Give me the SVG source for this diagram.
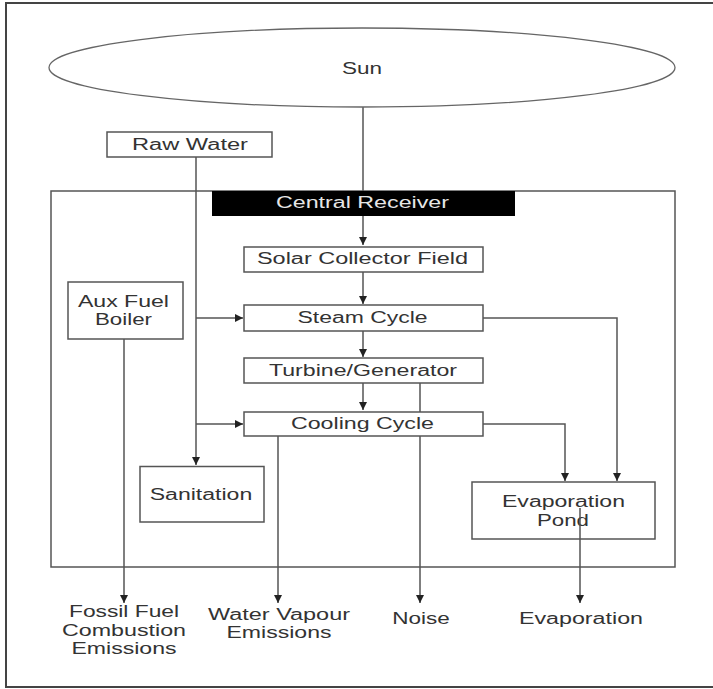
<svg xmlns="http://www.w3.org/2000/svg" width="713" height="689" viewBox="0 0 713 689">
<style>
.bx{fill:#fff;stroke:#555;stroke-width:1.5}
.ln{fill:none;stroke:#555;stroke-width:1.5}
.t{font-family:"Liberation Sans",Arial,sans-serif;font-size:16px;fill:#333;text-anchor:middle}
</style>
<defs>
<marker id="ah" markerUnits="userSpaceOnUse" markerWidth="9" markerHeight="9" refX="8" refY="4" orient="auto">
<path d="M0,0 L8,4 L0,8 z" fill="#222"/>
</marker>
</defs>
<rect x="0" y="0" width="713" height="689" fill="#fff"/>
<rect x="6" y="3" width="720" height="684" fill="none" stroke="#444" stroke-width="2"/>
<rect id="plant" x="51" y="191" width="624" height="376" fill="none" stroke="#555" stroke-width="1.5"/>

<g id="connectors">
<path class="ln" d="M363,107 V245" marker-end="url(#ah)"/>
<path class="ln" d="M363,272 V304" marker-end="url(#ah)"/>
<path class="ln" d="M363,331 V357" marker-end="url(#ah)"/>
<path class="ln" d="M363,383 V410" marker-end="url(#ah)"/>
<path class="ln" d="M196,157 V465" marker-end="url(#ah)"/>
<path class="ln" d="M196,318 H243" marker-end="url(#ah)"/>
<path class="ln" d="M196,424 H243" marker-end="url(#ah)"/>
<path class="ln" d="M483,318 H617 V481" marker-end="url(#ah)"/>
<path class="ln" d="M483,424 H565 V481" marker-end="url(#ah)"/>
<path class="ln" d="M124,339 V603" marker-end="url(#ah)"/>
<path class="ln" d="M278,436 V603" marker-end="url(#ah)"/>
<path class="ln" d="M420,383 V603" marker-end="url(#ah)"/>
<path class="ln" d="M580,508 V603" marker-end="url(#ah)"/>
</g>

<g id="sun">
<ellipse cx="362" cy="67.5" rx="313" ry="39.5" fill="none" stroke="#666" stroke-width="1.3"/>
<text class="t" transform="scale(1.4,1)" x="258.571" y="74" textLength="28.57" lengthAdjust="spacingAndGlyphs">Sun</text>
</g>
<g id="raw-water">
<rect class="bx" x="107" y="132" width="165" height="25"/>
<text class="t" transform="scale(1.4,1)" x="135.714" y="150.5" textLength="82.857" lengthAdjust="spacingAndGlyphs">Raw Water</text>
</g>
<g id="central-receiver">
<rect x="212" y="191" width="303" height="25" fill="#000"/>
<text class="t" transform="scale(1.4,1)" x="258.929" y="208.5" textLength="123.571" lengthAdjust="spacingAndGlyphs" style="fill:#e6e6e6">Central Receiver</text>
</g>
<g id="solar-collector-field">
<rect class="bx" x="244" y="247" width="239" height="25"/>
<text class="t" transform="scale(1.4,1)" x="258.929" y="264.3" textLength="150.714" lengthAdjust="spacingAndGlyphs">Solar Collector Field</text>
</g>
<g id="steam-cycle">
<rect class="bx" x="244" y="305" width="239" height="26"/>
<text class="t" transform="scale(1.4,1)" x="258.929" y="322.7" textLength="92.857" lengthAdjust="spacingAndGlyphs">Steam Cycle</text>
</g>
<g id="turbine-generator">
<rect class="bx" x="244" y="358" width="239" height="25"/>
<text class="t" transform="scale(1.4,1)" x="259.286" y="376.5" textLength="134.286" lengthAdjust="spacingAndGlyphs">Turbine/Generator</text>
</g>
<g id="cooling-cycle">
<rect class="bx" x="244" y="412" width="239" height="24"/>
<text class="t" transform="scale(1.4,1)" x="258.929" y="429" textLength="102.143" lengthAdjust="spacingAndGlyphs">Cooling Cycle</text>
</g>
<g id="aux-fuel-boiler">
<rect class="bx" x="68" y="282" width="115" height="57"/>
<text class="t" transform="scale(1.4,1)" x="88.214" y="306.7" textLength="65" lengthAdjust="spacingAndGlyphs">Aux Fuel</text>
<text class="t" transform="scale(1.4,1)" x="88.214" y="325.3" textLength="40.714" lengthAdjust="spacingAndGlyphs">Boiler</text>
</g>
<g id="sanitation">
<rect class="bx" x="140" y="466.5" width="124" height="55.5"/>
<text class="t" transform="scale(1.4,1)" x="143.571" y="500" textLength="73.214" lengthAdjust="spacingAndGlyphs">Sanitation</text>
</g>
<g id="evaporation-pond">
<rect class="bx" x="472" y="482" width="183" height="57"/>
<text class="t" transform="scale(1.4,1)" x="402.5" y="506.7" textLength="87.857" lengthAdjust="spacingAndGlyphs">Evaporation</text>
<text class="t" transform="scale(1.4,1)" x="402.143" y="526" textLength="37.143" lengthAdjust="spacingAndGlyphs">Pond</text>
<path class="ln" d="M580,508 V539"/>
</g>
<g id="fossil-fuel-emissions">
<text class="t" transform="scale(1.4,1)" x="88.571" y="616.7" textLength="78.571" lengthAdjust="spacingAndGlyphs">Fossil Fuel</text>
<text class="t" transform="scale(1.4,1)" x="88.571" y="635.7" textLength="88.571" lengthAdjust="spacingAndGlyphs">Combustion</text>
<text class="t" transform="scale(1.4,1)" x="88.571" y="654.3" textLength="75" lengthAdjust="spacingAndGlyphs">Emissions</text>
</g>
<g id="water-vapour-emissions">
<text class="t" transform="scale(1.4,1)" x="199.286" y="620" textLength="101.429" lengthAdjust="spacingAndGlyphs">Water Vapour</text>
<text class="t" transform="scale(1.4,1)" x="199.286" y="638" textLength="75" lengthAdjust="spacingAndGlyphs">Emissions</text>
</g>
<g id="noise">
<text class="t" transform="scale(1.4,1)" x="300.714" y="624" textLength="41.071" lengthAdjust="spacingAndGlyphs">Noise</text>
</g>
<g id="evaporation">
<text class="t" transform="scale(1.4,1)" x="415" y="624" textLength="88.571" lengthAdjust="spacingAndGlyphs">Evaporation</text>
</g>
</svg>
